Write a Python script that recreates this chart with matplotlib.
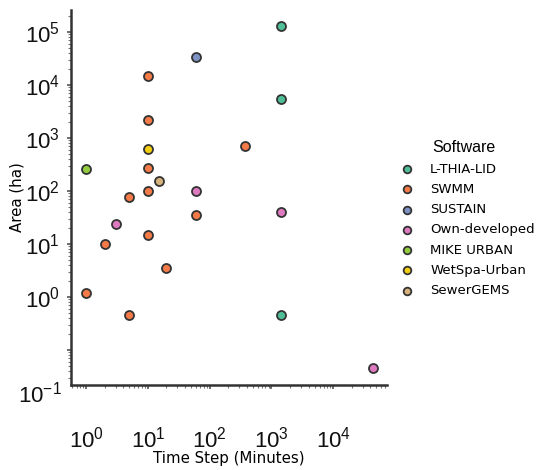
import matplotlib
matplotlib.use("Agg")
import math
import matplotlib.pyplot as plt
from matplotlib.ticker import FixedLocator, LogLocator, NullFormatter, FuncFormatter

# ---- data ----
software = ["L-THIA-LID", "SWMM", "SUSTAIN", "Own-developed", "MIKE URBAN", "WetSpa-Urban", "SewerGEMS"]
colors = ["#4fbf97", "#f47b48", "#7f92c6", "#e07ac0", "#93cc3f", "#f2cf12", "#d8b27c"]

lthia_x = [1440, 1440, 1440]
lthia_y = [130000, 5400, 0.46]
swmm_x = [10, 10, 370, 10, 10, 5, 60, 10, 2, 20, 1, 5]
swmm_y = [15000, 2200, 710, 275, 100, 76, 35, 15, 10, 3.6, 1.17, 0.46]
sustain_x = [60]
sustain_y = [34000]
own_x = [60, 1440, 3, 44000]
own_y = [100, 40, 24, 0.045]
mike_x = [1]
mike_y = [260]
wetspa_x = [10]
wetspa_y = [620]
sewer_x = [15]
sewer_y = [155]

xs = [lthia_x, swmm_x, sustain_x, own_x, mike_x, wetspa_x, sewer_x]
ys = [lthia_y, swmm_y, sustain_y, own_y, mike_y, wetspa_y, sewer_y]

x_ticks = [1, 10, 100, 1000, 10000]
y_ticks = [0.1, 1, 10, 100, 1000, 10000, 100000]

tickfont = "Liberation Sans"

fig = plt.figure(figsize=(5.4, 4.7), dpi=100)
ax = fig.add_axes([0.1315, 0.181, 0.585, 0.798])

for sx, sy, c, name in zip(xs, ys, colors, software):
    ax.scatter(sx, sy, s=42, color=c, edgecolor="#333333", linewidth=1.3, label=name, zorder=3)

ax.set_xscale("log")
ax.set_yscale("log")
ax.set_xlim(0.57, 74000)
ax.set_ylim(0.022, 2.6e5)

for s in ["top", "right"]:
    ax.spines[s].set_visible(False)
for s in ["left", "bottom"]:
    ax.spines[s].set_color("#333333")
    ax.spines[s].set_linewidth(1.8)

ax.xaxis.set_major_locator(FixedLocator(x_ticks))
ax.yaxis.set_major_locator(FixedLocator(y_ticks))
ax.xaxis.set_minor_locator(LogLocator(base=10, subs=range(2, 10), numticks=20))
ax.yaxis.set_minor_locator(LogLocator(base=10, subs=range(2, 10), numticks=20))
ax.xaxis.set_minor_formatter(NullFormatter())
ax.yaxis.set_minor_formatter(NullFormatter())

def fmt(v, pos):
    e = int(round(math.log10(v)))
    if e == -1:
        return ""
    return r"$\mathregular{10^{%d}}$" % e

ax.xaxis.set_major_formatter(FuncFormatter(fmt))
ax.yaxis.set_major_formatter(FuncFormatter(fmt))
ax.tick_params(axis="both", which="major", length=3, width=1.2, color="#555555",
               labelsize=16, labelcolor="#111111")
ax.tick_params(axis="both", which="minor", length=2, width=0.8, color="#777777")
ax.tick_params(axis="x", which="major", pad=27)
ax.tick_params(axis="y", which="major", pad=5)
for lab in ax.get_xticklabels() + ax.get_yticklabels():
    lab.set_family(tickfont)

# the 10^-1 label sits below the axis in the reference
ax.text(-0.028, -0.026, r"$\mathregular{10^{-1}}$", transform=ax.transAxes,
        ha="right", va="center", fontsize=16, family=tickfont, color="#111111", clip_on=False)

ax.set_xlabel("Time Step (Minutes)", fontsize=10.8, labelpad=-1)
ax.set_ylabel("Area (ha)", fontsize=10.8, labelpad=0)

leg = ax.legend(title="Software", loc="upper left", bbox_to_anchor=(1.022, 0.652),
                frameon=False, fontsize=9.5, handletextpad=0.75, labelspacing=0.55,
                borderaxespad=0, markerscale=0.85, borderpad=0)
leg.get_title().set_family(tickfont)
leg.get_title().set_fontsize(11.5)

fig.savefig("out.png", dpi=100)
